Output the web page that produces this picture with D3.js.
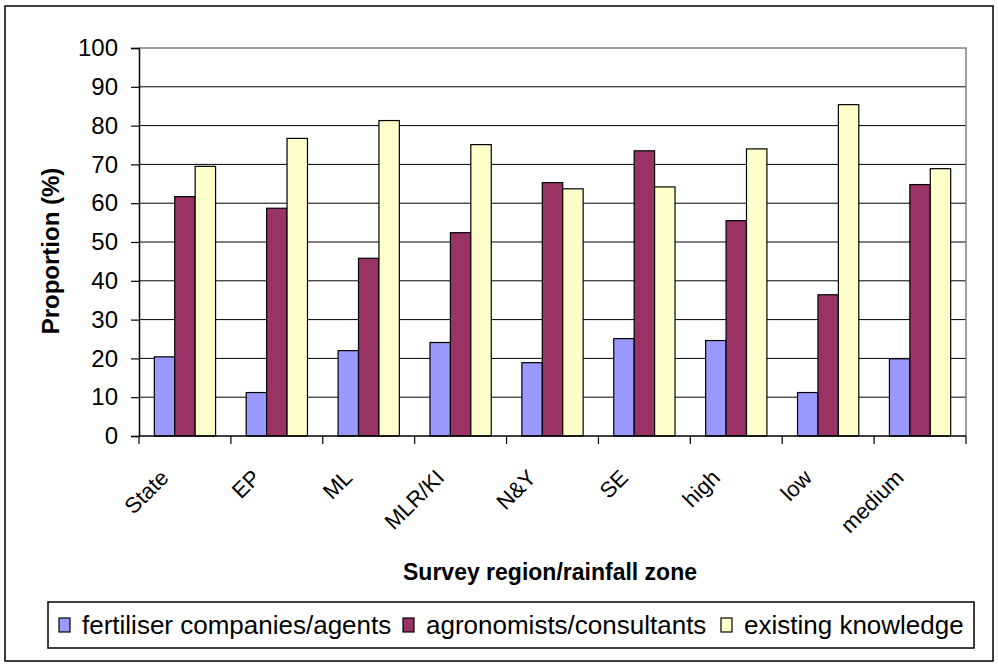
<!DOCTYPE html>
<html>
<head>
<meta charset="utf-8">
<script src="https://cdn.jsdelivr.net/npm/d3@7"></script>
<style>
  html, body { margin: 0; padding: 0; background: #fff; }
  svg { display: block; }
  text { font-family: Arial, "Liberation Sans", sans-serif; fill: #000; }
</style>
</head>
<body>
<svg id="chart" width="998" height="664"></svg>
<script>
// Survey regions and rainfall zones
const categories = ["State", "EP", "ML", "MLR/KI", "N&Y", "SE", "high", "low", "medium"];

// Information source used (% of respondents)
const fertiliserCompanies = [20.4, 11.2, 22.0, 24.1, 18.9, 25.1, 24.6, 11.2, 19.9];
const agronomists         = [61.7, 58.7, 45.8, 52.4, 65.3, 73.5, 55.5, 36.4, 64.8];
const existingKnowledge   = [69.5, 76.7, 81.3, 75.1, 63.7, 64.2, 74.0, 85.4, 68.9];

const seriesNames = ["fertiliser companies/agents", "agronomists/consultants", "existing knowledge"];
const seriesColors = ["#9999FF", "#993366", "#FFFFCC"];
const yTicks = [0, 10, 20, 30, 40, 50, 60, 70, 80, 90, 100];

const seriesValues = [fertiliserCompanies, agronomists, existingKnowledge];

const svg = d3.select("#chart");

// chart frame
svg.append("rect")
  .attr("x", 5).attr("y", 6).attr("width", 988).attr("height", 655)
  .attr("fill", "#fff").attr("stroke", "#000").attr("stroke-width", 1.5);

const plot = { left: 139, right: 966, top: 48, bottom: 436 };

const x0 = d3.scaleBand().domain(categories).range([plot.left, plot.right]);
const x1 = d3.scaleBand().domain(seriesNames).range([0, x0.bandwidth()])
  .paddingInner(0).paddingOuter(0.75);
const y = d3.scaleLinear().domain([0, 100]).range([plot.bottom, plot.top]);

// gridlines
svg.append("g")
  .selectAll("line")
  .data(yTicks.filter(t => t > 0 && t < 100))
  .join("line")
  .attr("x1", plot.left).attr("x2", plot.right)
  .attr("y1", d => y(d)).attr("y2", d => y(d))
  .attr("stroke", "#000").attr("stroke-width", 1);

// plot area border (top and right)
svg.append("path")
  .attr("d", `M${plot.left},${y(100)}H${plot.right}V${plot.bottom}`)
  .attr("fill", "none").attr("stroke", "#808080").attr("stroke-width", 1.5);

// bars
const groups = svg.append("g")
  .selectAll("g")
  .data(categories)
  .join("g")
  .attr("transform", d => `translate(${x0(d)},0)`);

groups.selectAll("rect")
  .data((d, i) => seriesNames.map((s, k) => ({ s, k, v: seriesValues[k][i] })))
  .join("rect")
  .attr("x", d => x1(d.s))
  .attr("y", d => y(d.v))
  .attr("width", x1.bandwidth())
  .attr("height", d => y(0) - y(d.v))
  .attr("fill", d => seriesColors[d.k])
  .attr("stroke", "#000").attr("stroke-width", 1.2);

// y axis
const yAxis = d3.axisLeft(y).tickValues(yTicks).tickSize(8).tickPadding(13);
const gy = svg.append("g").attr("transform", `translate(${plot.left},0)`).call(yAxis);
gy.select(".domain").attr("stroke", "#000").attr("stroke-width", 1.5);
gy.selectAll(".tick line").attr("stroke", "#000").attr("stroke-width", 1.2);
gy.selectAll(".tick text")
  .attr("font-size", 24).attr("font-family", "Arial, 'Liberation Sans', sans-serif")
  .attr("fill", "#000");

// x axis: ticks at band boundaries
const edges = categories.map(c => x0(c)).concat([plot.right]);
const gx = svg.append("g");
gx.append("line")
  .attr("x1", plot.left).attr("x2", plot.right)
  .attr("y1", plot.bottom).attr("y2", plot.bottom)
  .attr("stroke", "#000").attr("stroke-width", 1.5);
gx.selectAll("line.tick")
  .data(edges)
  .join("line").attr("class", "tick")
  .attr("x1", d => d).attr("x2", d => d)
  .attr("y1", plot.bottom).attr("y2", plot.bottom + 8)
  .attr("stroke", "#000").attr("stroke-width", 1.2);

// rotated category labels
gx.selectAll("text")
  .data(categories)
  .join("text")
  .attr("transform", d => `translate(${x0(d) + x0.bandwidth() / 2 - 15},${plot.bottom + 43}) rotate(-45)`)
  .attr("text-anchor", "end")
  .attr("font-size", 22)
  .text(d => d);

// axis titles
svg.append("text")
  .attr("transform", `translate(58.5,251) rotate(-90)`)
  .attr("text-anchor", "middle")
  .attr("font-size", 24).attr("font-weight", "bold")
  .text("Proportion (%)");

svg.append("text")
  .attr("x", 550).attr("y", 580)
  .attr("text-anchor", "middle")
  .attr("font-size", 23).attr("font-weight", "bold")
  .text("Survey region/rainfall zone");

// legend
const legend = svg.append("g");
legend.append("rect")
  .attr("x", 48).attr("y", 602).attr("width", 926).attr("height", 46)
  .attr("fill", "#fff").attr("stroke", "#000").attr("stroke-width", 1.5);

const legendKeyX = [59, 403, 721];
const items = legend.selectAll("g.item")
  .data(seriesNames)
  .join("g").attr("class", "item")
  .attr("transform", (d, i) => `translate(${legendKeyX[i]},0)`);
items.append("rect")
  .attr("x", 0).attr("y", 618).attr("width", 11).attr("height", 14)
  .attr("fill", (d, i) => seriesColors[i])
  .attr("stroke", "#000").attr("stroke-width", 1.2);
items.append("text")
  .attr("x", 23).attr("y", 634)
  .attr("font-size", 26)
  .text(d => d);
</script>
</body>
</html>
